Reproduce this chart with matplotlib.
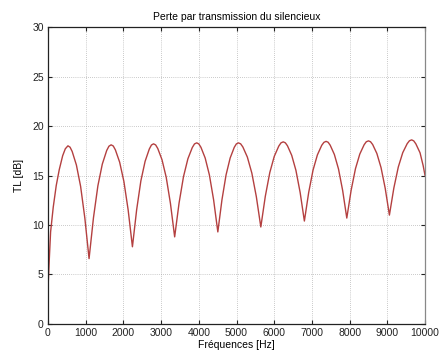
import matplotlib
matplotlib.use("Agg")
import matplotlib.pyplot as plt

# frequency [Hz] and transmission loss [dB]
freq = [0, 35, 70, 140, 220, 300, 390, 460, 530, 586,
        642, 754, 866, 978, 1090,
        1207, 1324, 1441, 1558, 1617, 1675, 1732,
        1788, 1901, 2014, 2127, 2240,
        2352, 2464, 2576, 2688, 2744, 2800, 2856,
        2912, 3024, 3136, 3248, 3360,
        3477, 3594, 3711, 3828, 3886, 3945, 4001,
        4057, 4169, 4281, 4393, 4505,
        4614, 4723, 4832, 4941, 4996, 5050, 5110,
        5169, 5288, 5407, 5526, 5645,
        5764, 5883, 6002, 6121, 6180, 6240, 6296,
        6352, 6464, 6576, 6688, 6800,
        6915, 7030, 7145, 7260, 7318, 7375, 7430,
        7485, 7595, 7705, 7815, 7925,
        8040, 8155, 8270, 8385, 8442, 8500, 8555,
        8611, 8722, 8833, 8944, 9055,
        9173, 9291, 9409, 9527, 9586, 9645, 9700,
        9756, 9867, 9950, 10000]
tl = [3.5, 6.5, 9.3, 11.8, 14.0, 15.6, 17.0, 17.7, 18.0, 17.86,
      17.43, 16.06, 13.9, 10.7, 6.6,
      10.74, 13.96, 16.15, 17.53, 17.96, 18.1, 17.98,
      17.59, 16.35, 14.39, 11.51, 7.8,
      11.54, 14.46, 16.43, 17.68, 18.08, 18.2, 18.09,
      17.73, 16.6, 14.82, 12.18, 8.8,
      12.22, 14.88, 16.69, 17.83, 18.19, 18.3, 18.19,
      17.85, 16.77, 15.06, 12.54, 9.3,
      12.54, 15.06, 16.77, 17.85, 18.19, 18.3, 18.2,
      17.88, 16.86, 15.24, 12.86, 9.8,
      12.9, 15.3, 16.94, 17.97, 18.3, 18.4, 18.3,
      18.0, 17.04, 15.52, 13.28, 10.4,
      13.3, 15.55, 17.08, 18.05, 18.35, 18.45, 18.36,
      18.06, 17.13, 15.66, 13.49, 10.7,
      13.51, 15.69, 17.17, 18.11, 18.41, 18.5, 18.41,
      18.13, 17.23, 15.8, 13.7, 11.0,
      13.74, 15.86, 17.31, 18.22, 18.51, 18.6, 18.5,
      18.2, 17.3, 16.0, 15.0]

xticks = list(range(0, 10001, 1000))
yticks = list(range(0, 31, 5))

plt.rcParams['font.family'] = ['Liberation Sans', 'DejaVu Sans']

fig = plt.figure(figsize=(4.4, 3.56), dpi=100)
ax = fig.add_axes([0.109, 0.090, 0.857, 0.834])

ax.plot(freq, tl, color="#b44040", linewidth=1.0)

ax.set_xlim(0, 10000)
ax.set_ylim(0, 30)
ax.set_xticks(xticks)
ax.set_xticklabels([str(t) for t in xticks])
ax.set_yticks(yticks)
ax.grid(True, linestyle=(0, (1, 2)), color="#999999", linewidth=0.5)
ax.tick_params(direction="in", top=True, right=True, length=3,
               labelsize=7.5, colors="#222222", pad=3)
for s in ax.spines.values():
    s.set_linewidth(0.9)
    s.set_color("#222222")
ax.spines["right"].set_color("#888888")

ax.set_title("Perte par transmission du silencieux", fontsize=7.5, pad=5)
ax.set_xlabel("Fréquences [Hz]", fontsize=7.5, labelpad=1)
ax.set_ylabel("TL [dB]", fontsize=7.5, labelpad=6)

fig.savefig("out.png", dpi=100)
